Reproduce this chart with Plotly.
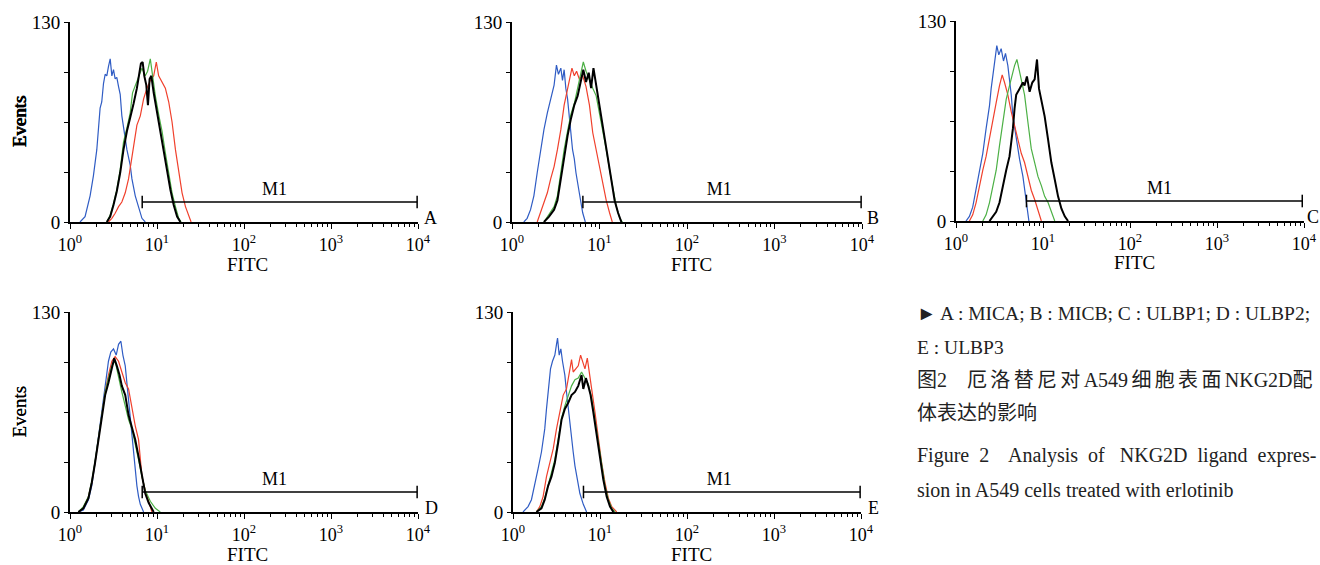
import plotly.graph_objects as go

# ---- data: log10(FITC) positions and event counts ----
A_blue_x = [0.115,0.173,0.231,0.269,0.308,0.346,0.365,0.385,0.404,0.423,0.442,0.462,0.481,0.500,0.519,0.538,0.558,0.577,0.596,0.615,0.635,0.654,0.692,0.712,0.750,0.788,0.827,0.865]
A_blue_y = [0,3.5,17,30,47,74,78,90,96,95,101,106,95,99,93,94,88,83,69,61,56,47,37,28,17,9,2.4,0]
A_red_x = [0.442,0.481,0.519,0.558,0.596,0.635,0.673,0.712,0.750,0.769,0.808,0.846,0.885,0.923,0.962,0.992,1.019,1.058,1.096,1.135,1.173,1.212,1.250,1.288,1.327,1.365,1.392]
A_red_y = [0,2.4,5.7,10,13,19,28,43,57,63,69,80,87,92,95,104,95,91,87,78,65,47,32,19,10,3.5,0]
A_green_x = [0.423,0.462,0.500,0.538,0.577,0.615,0.654,0.692,0.719,0.750,0.788,0.827,0.865,0.892,0.923,0.954,0.981,1.019,1.058,1.096,1.135,1.173,1.212,1.250,1.277]
A_green_y = [0,4.6,12,21,34,52,61,71,84,89,94,100,95,98,106,91,82,70,59,45,31,19,10,2.4,0]
A_black_x = [0.423,0.462,0.500,0.538,0.577,0.615,0.654,0.692,0.731,0.769,0.788,0.815,0.835,0.854,0.877,0.896,0.915,0.935,0.962,1.000,1.038,1.077,1.115,1.154,1.192,1.231,1.269]
A_black_y = [0,3.5,11,20,32,47,59,67,77,87,93,103,104,95,89,76,93,95,84,71,60,47,33,21,11,3.5,0]

B_blue_x = [0.135,0.173,0.212,0.250,0.288,0.327,0.365,0.404,0.442,0.481,0.508,0.531,0.558,0.577,0.596,0.615,0.635,0.654,0.673,0.692,0.712,0.731,0.769,0.788,0.808,0.838]
B_blue_y = [0,2.4,8,17,32,47,60,71,81,89,102,96,100,92,99,87,80,67,56,47,41,32,19,12,6,0]
B_red_x = [0.288,0.327,0.365,0.404,0.442,0.481,0.519,0.558,0.596,0.615,0.635,0.662,0.685,0.712,0.738,0.769,0.808,0.846,0.885,0.923,0.962,1.000,1.038,1.077,1.115,1.146]
B_red_y = [0,6,12,19,28,36,47,60,76,81,87,95,100,95,98,93,95,88,76,58,47,36,25,14,6,0]
B_green_x = [0.365,0.423,0.481,0.519,0.558,0.596,0.635,0.673,0.712,0.750,0.788,0.815,0.846,0.885,0.923,0.962,1.000,1.038,1.077,1.115,1.154,1.192,1.231,1.262]
B_green_y = [0,4.6,10,17,34,47,59,70,77,87,95,104,98,92,87,82,71,60,47,34,21,10,2.4,0]
B_black_x = [0.365,0.423,0.481,0.519,0.558,0.596,0.635,0.673,0.712,0.750,0.788,0.815,0.846,0.877,0.904,0.931,0.962,0.992,1.019,1.058,1.096,1.135,1.173,1.212,1.250]
B_black_y = [0,3.5,8,14,28,43,56,67,76,82,91,99,91,97,87,100,89,78,69,56,41,28,14,6,0]

C_blue_x = [0.115,0.154,0.192,0.231,0.269,0.308,0.346,0.385,0.404,0.431,0.454,0.469,0.492,0.519,0.546,0.569,0.596,0.615,0.635,0.654,0.692,0.731,0.769,0.788,0.808,0.838]
C_blue_y = [0,3,9,20,33,44,60,75,86,97,106,114,108,112,104,109,101,93,82,68,53,40,29,20,12,0]
C_red_x = [0.154,0.192,0.231,0.269,0.308,0.346,0.385,0.423,0.462,0.500,0.531,0.558,0.596,0.635,0.673,0.712,0.750,0.788,0.827,0.865,0.904,0.942,0.981]
C_red_y = [0,4,12,23,33,42,53,66,77,88,95,90,82,71,62,53,44,38,29,20,14,7,0]
C_green_x = [0.308,0.346,0.385,0.423,0.462,0.500,0.538,0.577,0.615,0.646,0.673,0.700,0.723,0.750,0.788,0.827,0.865,0.904,0.942,0.981,1.019,1.058,1.096,1.135]
C_green_y = [0,4,12,23,33,49,64,79,88,95,101,105,99,93,82,64,47,38,29,23,16,12,6,0]
C_black_x = [0.385,0.423,0.462,0.500,0.538,0.577,0.615,0.654,0.673,0.692,0.731,0.769,0.788,0.815,0.846,0.877,0.904,0.931,0.954,0.981,1.019,1.058,1.096,1.135,1.173,1.212,1.250,1.288]
C_black_y = [0,3,6,12,23,33,42,60,73,82,86,90,88,94,84,90,92,105,86,79,68,53,38,27,16,8,3,0]

D_blue_x = [0.096,0.154,0.212,0.250,0.288,0.327,0.365,0.404,0.442,0.469,0.500,0.531,0.558,0.585,0.608,0.635,0.654,0.673,0.692,0.712,0.731,0.750,0.769,0.788,0.808,0.846]
D_blue_y = [0,1.3,8,17,32,49,65,82,98,104,106,102,109,111,102,95,84,71,63,52,39,28,17,10,5,0]
D_red_x = [0.096,0.154,0.212,0.250,0.288,0.327,0.365,0.404,0.442,0.481,0.519,0.558,0.596,0.635,0.673,0.712,0.750,0.788,0.808,0.827,0.865,0.904,0.942]
D_red_y = [0,2.4,10,19,32,47,63,78,89,98,101,98,91,84,80,67,56,47,32,23,14,6,0]
D_green_x = [0.096,0.154,0.212,0.250,0.288,0.327,0.365,0.404,0.442,0.481,0.519,0.558,0.596,0.635,0.673,0.712,0.750,0.788,0.827,0.865,0.923,0.981,1.038]
D_green_y = [0,3.5,10,20,33,49,65,78,87,95,98,87,78,69,60,54,45,34,23,14,7,2.4,0]
D_black_x = [0.096,0.154,0.212,0.250,0.288,0.327,0.365,0.404,0.442,0.481,0.508,0.538,0.569,0.596,0.635,0.673,0.712,0.750,0.788,0.827,0.865,0.904,0.962]
D_black_y = [0,2.4,9,19,32,47,63,76,84,93,100,95,89,82,76,63,54,47,36,23,12,6,0]

E_blue_x = [0.115,0.173,0.212,0.250,0.288,0.327,0.365,0.385,0.404,0.431,0.454,0.481,0.500,0.512,0.531,0.550,0.569,0.596,0.615,0.635,0.654,0.673,0.692,0.712,0.731,0.769,0.808,0.846]
E_blue_y = [0,3.5,8,17,28,39,54,67,80,93,98,102,109,113,102,106,98,89,78,67,56,47,39,30,23,12,5,0]
E_red_x = [0.269,0.308,0.346,0.385,0.423,0.462,0.500,0.538,0.577,0.615,0.646,0.673,0.692,0.723,0.750,0.777,0.800,0.827,0.854,0.877,0.904,0.942,0.981,1.019,1.058,1.096,1.135,1.192]
E_red_y = [0,3.5,10,23,32,41,54,65,76,80,91,99,91,93,95,102,98,93,100,89,80,65,47,32,19,9,3.5,0]
E_green_x = [0.269,0.327,0.365,0.404,0.442,0.481,0.519,0.558,0.596,0.635,0.673,0.712,0.750,0.788,0.827,0.865,0.904,0.942,0.981,1.019,1.058,1.096,1.135,1.173]
E_green_y = [0,3.5,9,18,25,34,47,61,69,76,82,86,87,91,87,83,74,60,45,30,17,8,2.4,0]
E_black_x = [0.269,0.327,0.365,0.404,0.442,0.481,0.519,0.558,0.596,0.635,0.673,0.712,0.750,0.788,0.808,0.838,0.865,0.892,0.923,0.962,1.000,1.038,1.077,1.115,1.154]
E_black_y = [0,2.4,8,17,23,32,45,60,67,71,76,78,82,89,80,87,82,76,65,49,34,21,10,3.5,0]

panel_letters = ["A", "B", "C", "D", "E"]
m1_start_log = [0.83, 0.81, 0.81, 0.83, 0.81]
m1_end_log = [3.99, 3.99, 3.98, 3.99, 3.99]
m1_level = 13
m1_label_log = [2.35, 2.37, 2.34, 2.35, 2.37]
x_tick_vals = [1, 10, 100, 1000, 10000]
x_tick_text = ["10<sup>0</sup>", "10<sup>1</sup>", "10<sup>2</sup>", "10<sup>3</sup>", "10<sup>4</sup>"]
y_tick_vals = [0, 32.5, 65, 97.5, 130]
y_tick_text = ["0", "", "", "", "130"]

curves = {
    "A": [(A_blue_x, A_blue_y), (A_red_x, A_red_y), (A_green_x, A_green_y), (A_black_x, A_black_y)],
    "B": [(B_blue_x, B_blue_y), (B_red_x, B_red_y), (B_green_x, B_green_y), (B_black_x, B_black_y)],
    "C": [(C_blue_x, C_blue_y), (C_red_x, C_red_y), (C_green_x, C_green_y), (C_black_x, C_black_y)],
    "D": [(D_blue_x, D_blue_y), (D_red_x, D_red_y), (D_green_x, D_green_y), (D_black_x, D_black_y)],
    "E": [(E_blue_x, E_blue_y), (E_red_x, E_red_y), (E_green_x, E_green_y), (E_black_x, E_black_y)],
}
colors = ["#2f5cc4", "#f0402c", "#4cb045", "#000000"]
widths = [1.2, 1.2, 1.2, 2.0]

W, H = 1320, 565
def px(x): return x / W
def py(y): return 1 - y / H

# panel pixel boxes: (left, right, top, bottom)
boxes = {
    "A": (70, 418, 22, 222),
    "B": (512, 862, 22, 222),
    "C": (956, 1304, 21, 221),
    "D": (70, 418, 312, 512),
    "E": (513, 861, 312, 512),
}
letter_pos = {"A": (430, 218), "B": (873, 218), "C": (1313, 217), "D": (431, 508), "E": (873, 508)}

SERIF = "Liberation Serif, Times New Roman, serif"
minor_vals = [m * 10 ** d for d in range(4) for m in range(2, 10)]

fig = go.Figure()
annotations = []
layout = dict(width=W, height=H, margin=dict(l=0, r=0, t=0, b=0, pad=0, autoexpand=False),
              paper_bgcolor="white", plot_bgcolor="white", showlegend=False)

for i, L in enumerate(panel_letters):
    n = "" if i == 0 else str(i + 1)
    xa, ya = "x" + n, "y" + n
    l, r, t, b = boxes[L]
    layout["xaxis" + n] = dict(
        domain=[px(l), px(r)], anchor=ya, type="log", range=[0, 4],
        tickmode="array", tickvals=x_tick_vals, ticktext=x_tick_text,
        ticks="outside", ticklen=5, tickwidth=1.3, tickcolor="black",
        minor=dict(tickvals=minor_vals, ticks="outside", ticklen=3, tickwidth=1, tickcolor="black"),
        showline=True, linecolor="black", linewidth=1.8, showgrid=False, zeroline=False,
        tickfont=dict(family=SERIF, size=18, color="black"), automargin=False,
    )
    layout["yaxis" + n] = dict(
        domain=[py(b), py(t)], anchor=xa, range=[0, 130],
        tickmode="array", tickvals=y_tick_vals, ticktext=y_tick_text,
        ticks="outside", ticklen=4, tickwidth=1.3, tickcolor="black",
        showline=True, linecolor="black", linewidth=1.8, showgrid=False, zeroline=False,
        tickfont=dict(family=SERIF, size=19, color="black"), automargin=False,
    )
    for (cx, cy), col, w in zip(curves[L], colors, widths):
        fig.add_trace(go.Scatter(x=[10 ** v for v in cx], y=cy, mode="lines",
                                 line=dict(color=col, width=w), xaxis=xa, yaxis=ya,
                                 hoverinfo="skip"))
    # M1 gate marker
    fig.add_trace(go.Scatter(x=[10 ** m1_start_log[i], 10 ** m1_end_log[i]], y=[m1_level, m1_level],
                             mode="lines+markers", line=dict(color="black", width=1.5),
                             marker=dict(symbol="line-ns", size=9, line=dict(color="black", width=1.5)),
                             xaxis=xa, yaxis=ya, hoverinfo="skip", cliponaxis=False))
    fig.add_trace(go.Scatter(x=[10 ** m1_label_log[i]], y=[m1_level + 1.5], mode="text", text=["M1"],
                             textposition="top center", textfont=dict(family=SERIF, size=18, color="black"),
                             xaxis=xa, yaxis=ya, hoverinfo="skip"))
    # axis titles and panel letter
    annotations.append(dict(x=px(18.5), y=py((t + b) / 2), xref="paper", yref="paper", text="Events",
                            xanchor="center", yanchor="middle",
                            textangle=-90, showarrow=False, font=dict(family=SERIF, size=19, color="black")))
    annotations.append(dict(x=px((l + r) / 2 + 4), y=py(b + 42), xref="paper", yref="paper", text="FITC",
                            xanchor="center", yanchor="middle",
                            showarrow=False, font=dict(family=SERIF, size=19, color="black")))
    lx, ly = letter_pos[L]
    annotations.append(dict(x=px(lx), y=py(ly), xref="paper", yref="paper", text=L,
                            xanchor="center", yanchor="middle",
                            showarrow=False, font=dict(family=SERIF, size=18, color="black")))

CAP = "Liberation Serif, Noto Sans CJK SC, serif"
s6 = "\u2006"
cjk_line = "图2\u3000" + s6.join(["厄", "洛", "替", "尼", "对", "A549", "细", "胞", "表", "面", "NKG2D"]) + "配"
caption_lines = [
    ("► A : MICA; B : MICB; C : ULBP1; D : ULBP2;", 313, 19.5),
    ("E : ULBP3", 347, 19.5),
    (cjk_line, 380, 20),
    ("体表达的影响", 413, 20),
    ("Figure  2    Analysis  of   NKG2D  ligand  expres-", 455, 20),
    ("sion in A549 cells treated with erlotinib", 490, 20),
]
for txt, yy, fs in caption_lines:
    annotations.append(dict(x=px(915), y=py(yy), xref="paper", yref="paper", text=txt,
                            xanchor="left", yanchor="middle", showarrow=False,
                            font=dict(family=CAP, size=fs, color="#222")))

layout["annotations"] = annotations
fig.update_layout(**layout)
fig.write_html("out.html", config={"displayModeBar": False},
               post_script="document.body.style.margin='0px';")
